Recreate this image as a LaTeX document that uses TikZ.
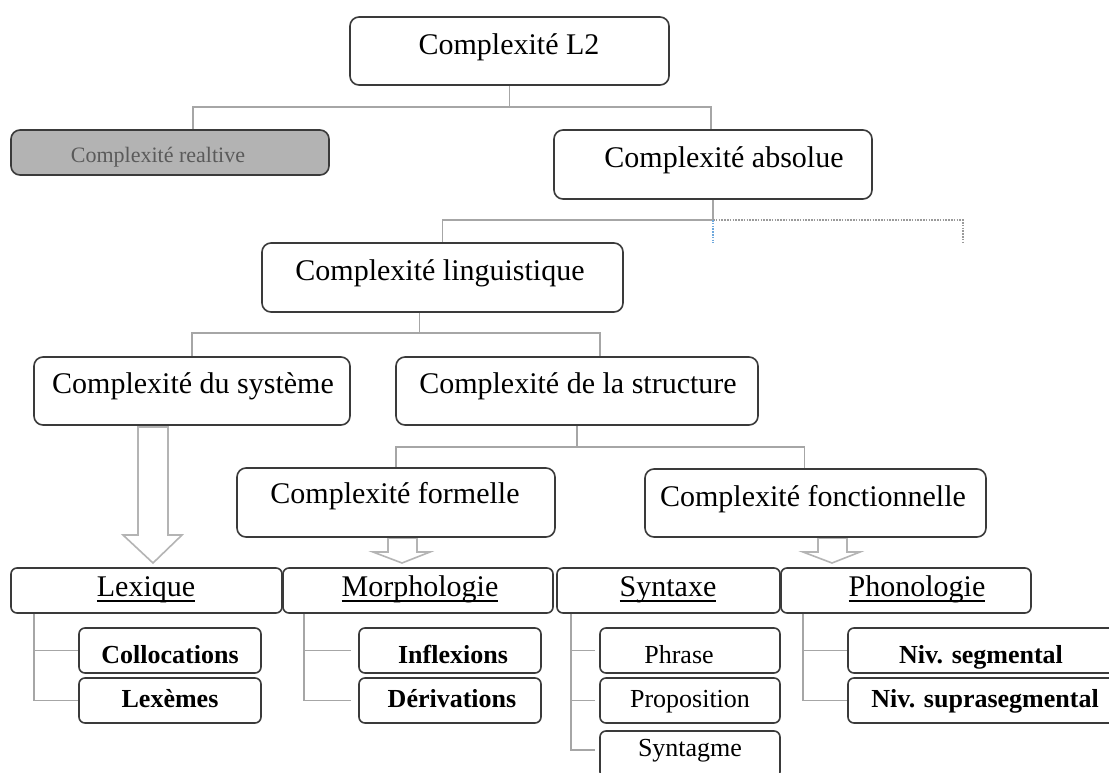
\documentclass[tikz,border=0pt]{standalone}
\usepackage{fontspec}
\setmainfont{Liberation Serif}
\usetikzlibrary{fit}
\definecolor{boxc}{HTML}{3A3A3A}
\definecolor{connc}{HTML}{A6A6A6}
\definecolor{arrc}{HTML}{B4B4B4}
\definecolor{relfill}{HTML}{B3B3B3}
\definecolor{reltext}{HTML}{5A5A5A}
\definecolor{dotc}{HTML}{9A9A9A}
\definecolor{bluedot}{HTML}{6FA8DC}
\newcommand\ulw[1]{\setbox0\hbox{#1}\rlap{\rule[-5.5pt]{\wd0}{1.4pt}}\box0}
\begin{document}
\begin{tikzpicture}[x=1pt,y=-1pt,
  box/.style={draw=boxc, line width=1.6pt, rounded corners=9pt, fill=white, inner sep=0pt},
  sbox/.style={box, rounded corners=6pt},
  conn/.style={draw=connc, line width=1.6pt},
  dotl/.style={draw=dotc, line width=1.4pt, dash pattern=on 1.6pt off 1.2pt},
  bdot/.style={draw=bluedot, line width=1.4pt, dash pattern=on 1.6pt off 1.2pt},
  blk/.style={draw=arrc, line width=1.6pt, fill=white, line join=miter},
  big/.style={font=\fontsize{30}{36}\selectfont, anchor=base, inner sep=0pt},
  sub/.style={font=\fontsize{26}{30}\selectfont, anchor=base, inner sep=0pt},
  subb/.style={font=\fontsize{26}{30}\selectfont\bfseries, anchor=base, inner sep=0pt}]
\clip (0,0) rectangle (1109,772);
\fill[white] (0,0) rectangle (1109,772);

% ---- boxes (shapes first, named) ----
\node[box, fit={(350,17) (669,85)}] (L2) {};
\node[box, fill=relfill, fit={(11,130) (329,175)}] (Rel) {};
\node[box, fit={(554,130) (872,199)}] (Abs) {};
\node[box, fit={(262,243) (623,312)}] (Ling) {};
\node[box, fit={(34,357) (350,425)}] (Sys) {};
\node[box, fit={(396,357) (758,425)}] (Str) {};

% arrows drawn under the lower boxes
\draw[blk] (138,427) -- (138,535) -- (123,535) -- (153,563) -- (182,535) -- (168,535) -- (168,427) -- cycle;
\draw[blk] (388,538) -- (388,552) -- (373,552) -- (402,563) -- (430,552) -- (417,552) -- (417,538) -- cycle;
\draw[blk] (818,538) -- (818,552) -- (803,552) -- (832,563) -- (860,552) -- (847,552) -- (847,538) -- cycle;

\node[box, fit={(237,468) (555,537)}] (Form) {};
\node[box, fit={(645,469) (986,537)}] (Fonc) {};

\node[sbox, fit={(11,568) (282,613)}] (Lex) {};
\node[sbox, fit={(283,568) (553,613)}] (Morph) {};
\node[sbox, fit={(557,568) (780,613)}] (Synt) {};
\node[sbox, fit={(781,568) (1031,613)}] (Phon) {};

\node[sbox, fit={(79,628) (261,673)}] (Coll) {};
\node[sbox, fit={(79,678) (261,723)}] (Lexm) {};
\node[sbox, fit={(359,628) (541,673)}] (Infl) {};
\node[sbox, fit={(359,678) (541,723)}] (Deriv) {};
\node[sbox, fit={(600,628) (780,673)}] (Phr) {};
\node[sbox, fit={(600,678) (780,723)}] (Prop) {};
\node[sbox, fit={(600,731) (780,778)}] (Syntg) {};
\node[sbox, fit={(848,628) (1125,673)}] (NSeg) {};
\node[sbox, fit={(848,678) (1125,723)}] (NSup) {};

% ---- connectors ----
\coordinate (j1) at (L2.south |- 0,107);
\draw[conn] (L2.south) -- (j1);
\draw[conn] ([xshift=23pt]Rel.north) |- (j1) -| ([xshift=-2pt]Abs.north);

\coordinate (j2) at (Abs.south |- 0,220);
\draw[conn] (Abs.south) -- (j2) -| (Ling.north);
\coordinate (j2r) at (963,220);
\coordinate (j2b) at (963,243);
\draw[dotl] (j2) -- (j2r) -- (j2b);
\draw[bdot] (j2) -- (j2 |- j2b);

\coordinate (j3) at ([xshift=-23pt]Ling.south |- 0,333);
\draw[conn] ([xshift=-23pt]Ling.south) -- (j3);
\draw[conn] (Sys.north) |- (j3) -| ([xshift=23pt]Str.north);

\coordinate (j4) at (Str.south |- 0,447);
\draw[conn] (Str.south) -- (j4);
\draw[conn] (Form.north) |- (j4) -| ([xshift=-11pt]Fonc.north);

\draw[conn] ([xshift=24pt]Lex.south west) |- (Coll.west);
\draw[conn] ([xshift=24pt]Lex.south west) |- (Lexm.west);
\draw[conn] ([xshift=22pt]Morph.south west) |- ([xshift=-7pt]Infl.west);
\draw[conn] ([xshift=22pt]Morph.south west) |- ([xshift=-7pt]Deriv.west);
\draw[conn] ([xshift=15pt]Synt.south west) |- ([xshift=-4pt]Phr.west);
\draw[conn] ([xshift=15pt]Synt.south west) |- ([xshift=-4pt]Prop.west);
\draw[conn] ([xshift=15pt]Synt.south west) |- ([xshift=-4pt]Syntg.west |- 0,750);
\draw[conn] ([xshift=23pt]Phon.south west) |- (NSeg.west);
\draw[conn] ([xshift=23pt]Phon.south west) |- (NSup.west);

% ---- texts ----
\node[big] (tL2) at (509,54) {Complexité L2};
\node[anchor=base, inner sep=0pt, font=\fontsize{22}{26}\selectfont, text=reltext] (tRel) at (158,162) {Complexité realtive};
\node[big] (tAbs) at (724,167) {Complexité absolue};
\node[big] (tLing) at (440,280) {Complexité linguistique};
\node[big] (tSys) at (193,393) {Complexité du système};
\node[big] (tStr) at (578,393) {Complexité de la structure};
\node[big] (tForm) at (395,503) {Complexité formelle};
\node[big] (tFonc) at (813,506) {Complexité fonctionnelle};

\node[big] (tLex) at (146,596) {\ulw{Lexique}};
\node[big] (tMorph) at (420,596) {\ulw{Morphologie}};
\node[big] (tSynt) at (668,596) {\ulw{Syntaxe}};
\node[big] (tPhon) at (917,596) {\ulw{Phonologie}};

\node[subb] (tColl) at (170,663) {Collocations};
\node[subb] (tLexm) at (170,707) {Lexèmes};
\node[subb] (tInfl) at (453,663) {Inflexions};
\node[subb] (tDeriv) at (452,707) {Dérivations};
\node[sub] (tPhr) at (679,663) {Phrase};
\node[sub] (tProp) at (690,707) {Proposition};
\node[sub] (tSyntg) at (690,756) {Syntagme};
\node[subb] (tNSeg) at (981,663) {Niv. segmental};
\node[subb] (tNSup) at (985,707) {Niv. suprasegmental};
\end{tikzpicture}
\end{document}
